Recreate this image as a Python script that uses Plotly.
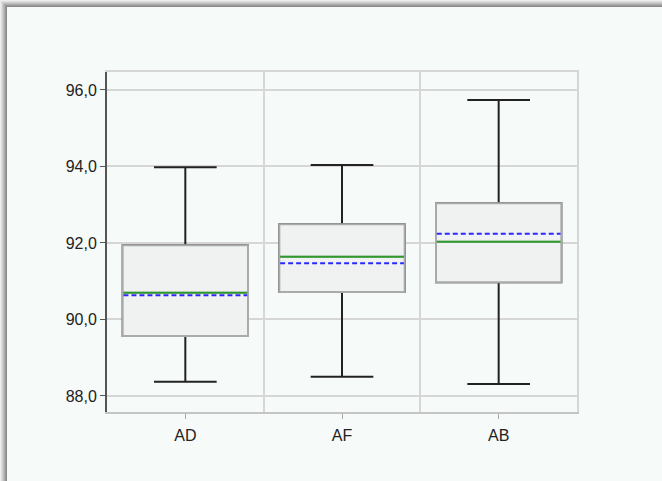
import plotly.graph_objects as go

# Summary statistics per group
categories = ["AD", "AF", "AB"]
lower_whisker = [88.37, 88.50, 88.31]
q1 = [89.57, 90.72, 90.97]
median = [90.70, 91.64, 92.03]
mean = [90.63, 91.47, 92.24]
q3 = [91.94, 92.49, 93.04]
upper_whisker = [93.98, 94.04, 95.74]
y_ticks = [88, 90, 92, 94, 96]

xpos = list(range(len(categories)))
BOX_W = 0.8

fig = go.Figure()

# Whiskers (dark) drawn first
fig.add_trace(go.Box(
    x=xpos, q1=q1, median=median, q3=q3,
    lowerfence=lower_whisker, upperfence=upper_whisker,
    width=BOX_W, whiskerwidth=0.5,
    line=dict(color="#222222", width=2),
    fillcolor="rgba(0,0,0,0)", boxpoints=False,
    hoverinfo="skip", showlegend=False,
))

# Box body (grey outline, light fill) on top of the whisker trace
fig.add_trace(go.Box(
    x=xpos, q1=q1, median=median, q3=q3,
    lowerfence=q1, upperfence=q3,
    width=BOX_W, whiskerwidth=0,
    line=dict(color="#a9aaa9", width=2),
    fillcolor="#eff2f0", boxpoints=False,
    hoverinfo="skip", showlegend=False,
))

def segs(vals):
    xs, ys = [], []
    for i, v in zip(xpos, vals):
        xs += [i - BOX_W / 2 + 0.005, i + BOX_W / 2 - 0.005, None]
        ys += [v, v, None]
    return xs, ys

mx, my = segs(median)
fig.add_trace(go.Scatter(x=mx, y=my, mode="lines",
                         line=dict(color="#2e9a2e", width=2),
                         hoverinfo="skip", showlegend=False))
ax, ay = segs(mean)
fig.add_trace(go.Scatter(x=ax, y=ay, mode="lines",
                         line=dict(color="#2a2aff", width=2, dash="5px,3px"),
                         hoverinfo="skip", showlegend=False))

# Card with soft shadow along top and left edges
L, T, PW, PH = 107, 72, 470, 340
def px(xp):
    return (xp - L) / PW
def py(yp):
    return (T + PH - yp) / PH

shapes = []
for k, a in enumerate([0.06, 0.07, 0.08, 0.09, 0.10, 0.11]):
    shapes.append(dict(type="rect", xref="paper", yref="paper",
                       x0=px(k + 1), x1=px(700), y0=py(k + 1), y1=py(500),
                       fillcolor=f"rgba(0,0,0,{a})", line_width=0, layer="below"))
shapes.append(dict(type="rect", xref="paper", yref="paper",
                   x0=px(7), x1=px(700), y0=py(7), y1=py(500),
                   fillcolor="#f6faf8", line_width=0, layer="below"))

fig.update_layout(
    width=662, height=481,
    margin=dict(l=L, r=662 - L - PW, t=T, b=481 - T - PH),
    paper_bgcolor="#ededed",
    plot_bgcolor="rgba(0,0,0,0)",
    separators=", ",
    boxmode="overlay",
    shapes=shapes,
    font=dict(family="Liberation Sans, Arial, sans-serif", size=16, color="#222222"),
    xaxis=dict(
        range=[-0.5, 2.5],
        tickvals=xpos, ticktext=categories,
        ticks="outside", ticklen=5, tickcolor="#aaaaaa", tickwidth=1,
        ticklabelstandoff=3,
        showgrid=False, zeroline=False,
        showline=True, linecolor="#c4c4c4", linewidth=2, mirror=False,
    ),
    xaxis2=dict(
        overlaying="x", range=[-0.5, 2.5],
        tickvals=[0.5, 1.5], showticklabels=False,
        showgrid=True, gridcolor="#d6d6d6", gridwidth=1.5,
        zeroline=False, showline=True, linecolor="#d6d6d6", linewidth=2,
        side="top",
    ),
    yaxis=dict(
        range=[87.58, 96.47],
        tickvals=y_ticks, tickformat=".1f",
        ticks="outside", ticklen=5, tickcolor="#555555", tickwidth=1,
        showgrid=True, gridcolor="#d6d6d6", gridwidth=1.5,
        zeroline=False, showline=True, linecolor="#555555", linewidth=2,
    ),
    yaxis2=dict(
        overlaying="y", range=[87.58, 96.47], side="right",
        showticklabels=False, showgrid=False, zeroline=False,
        showline=True, linecolor="#d6d6d6", linewidth=2,
    ),
)

# Invisible trace to activate the secondary axes (category separators and frame)
fig.add_trace(go.Scatter(x=[None], y=[None], xaxis="x2", yaxis="y2",
                         showlegend=False, hoverinfo="skip"))

fig.write_html("out.html")
